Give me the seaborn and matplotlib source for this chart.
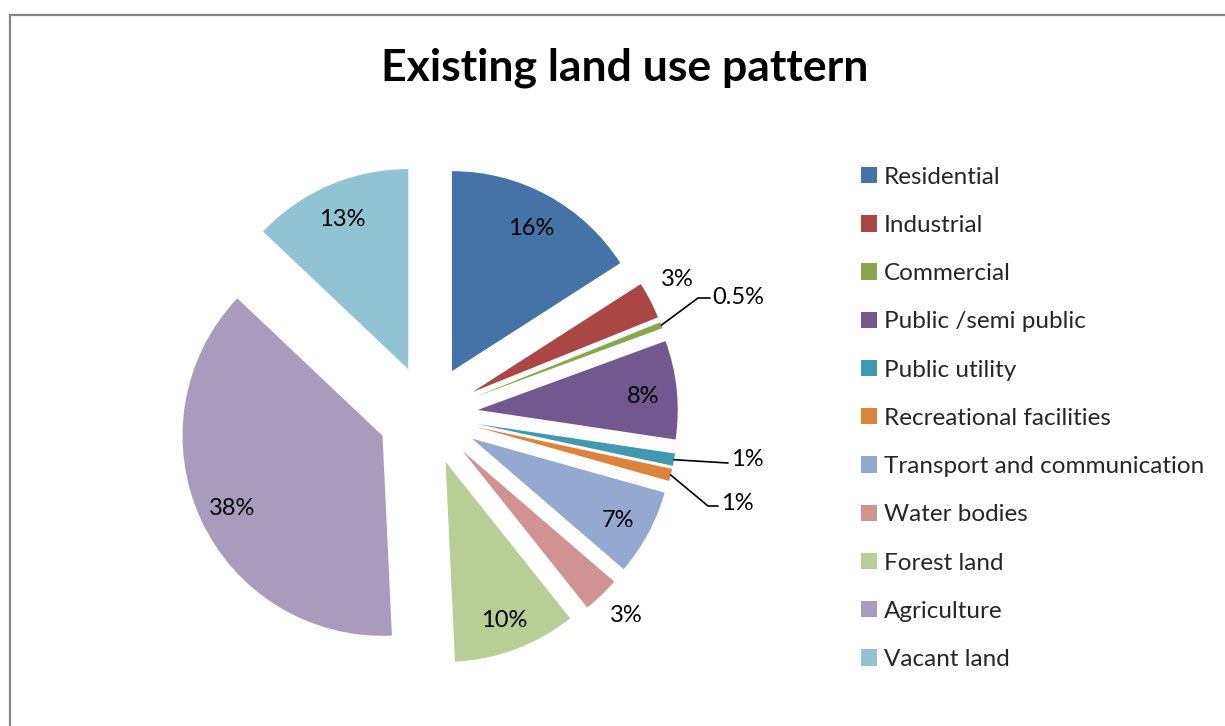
import numpy as np
import matplotlib
matplotlib.use("Agg")
import matplotlib.pyplot as plt
import matplotlib.patches as mpatches
import seaborn as sns

# Land use shares (%)
categories = ["Residential", "Industrial", "Commercial", "Public /semi public",
              "Public utility", "Recreational facilities",
              "Transport and communication", "Water bodies", "Forest land",
              "Agriculture", "Vacant land"]
shares = [16, 3, 0.5, 8, 1, 1, 7, 3, 10, 38, 13]
pct_labels = [f"{v:g}%" for v in shares]

colors = sns.color_palette(["#4572A7", "#AA4643", "#89A54E", "#71588F",
                            "#4198AF", "#DB843D", "#93A9CF", "#D19392",
                            "#B9CD96", "#A99BBD", "#92C3D4"])

sns.set_theme(style="white")
plt.rcParams["font.family"] = ["Lato", "DejaVu Sans"]

W, H = 1225, 726
fig = plt.figure(figsize=(W / 100, H / 100), dpi=100)
fig.patch.set_facecolor("white")

# chart-area frame (top and left edges visible)
frame = mpatches.Rectangle((10 / W, -0.2), 1.2, 1.2 - 14.5 / H,
                           transform=fig.transFigure, fill=False,
                           edgecolor="#878787", linewidth=1.6, clip_on=False)
fig.patches.append(frame)

fig.text(625 / W, 1 - 68 / H, "Existing land use pattern", ha="center",
         va="center", fontsize=32, fontweight="bold", color="black")

# pie axes: 200 px per data unit, centred at (428, 415) px
cx, cy, side = 428, 415, 600
ax = fig.add_axes([(cx - side / 2) / W, (H - cy - side / 2) / H, side / W, side / H])
wedges, _ = ax.pie(shares, colors=colors, startangle=90, counterclock=False,
                   explode=[0.25] * len(shares), radius=1.0,
                   wedgeprops=dict(linewidth=0))
ax.set_xlim(-1.5, 1.5)
ax.set_ylim(-1.5, 1.5)
ax.set_aspect("equal")
ax.axis("off")

lab_fs = 17
inside = {0, 3, 6, 8, 9, 10}
outside_pos = {1: (1.245, 0.675), 7: (0.99, -1.0)}
# leader-line labels: elbow point, line end, text anchor
leaders = {2: ((1.35, 0.585), (1.41, 0.585), (1.42, 0.59)),
           4: ((1.50, -0.24), (1.50, -0.24), (1.515, -0.225)),
           5: ((1.40, -0.455), (1.45, -0.455), (1.465, -0.44))}

for i, w in enumerate(wedges):
    mid = np.deg2rad((w.theta1 + w.theta2) / 2)
    ux, uy = np.cos(mid), np.sin(mid)
    x0, y0 = w.center
    if i in inside:
        ax.text(x0 + 0.83 * w.r * ux, y0 + 0.83 * w.r * uy - 0.015,
                pct_labels[i], ha="center", va="center", fontsize=lab_fs,
                color="black")
    elif i in outside_pos:
        px, py = outside_pos[i]
        ax.text(px, py, pct_labels[i], ha="center", va="center",
                fontsize=lab_fs, color="black", clip_on=False)
    else:
        ex, ey = x0 + w.r * ux, y0 + w.r * uy
        (bx, by), (lx, ly), (tx, ty) = leaders[i]
        ax.plot([ex, bx, lx], [ey, by, ly], color="black", lw=1.2,
                clip_on=False)
        ax.text(tx, ty, pct_labels[i], ha="left", va="center",
                fontsize=lab_fs, color="black", clip_on=False)

fig.legend(wedges, categories, loc="upper left",
           bbox_to_anchor=(851 / W, 1 - 157 / H), frameon=False,
           fontsize=17.5, handlelength=0.66, handleheight=0.66,
           handletextpad=0.3, labelspacing=1.12, borderaxespad=0)

fig.savefig("out.png", dpi=100, facecolor="white")
